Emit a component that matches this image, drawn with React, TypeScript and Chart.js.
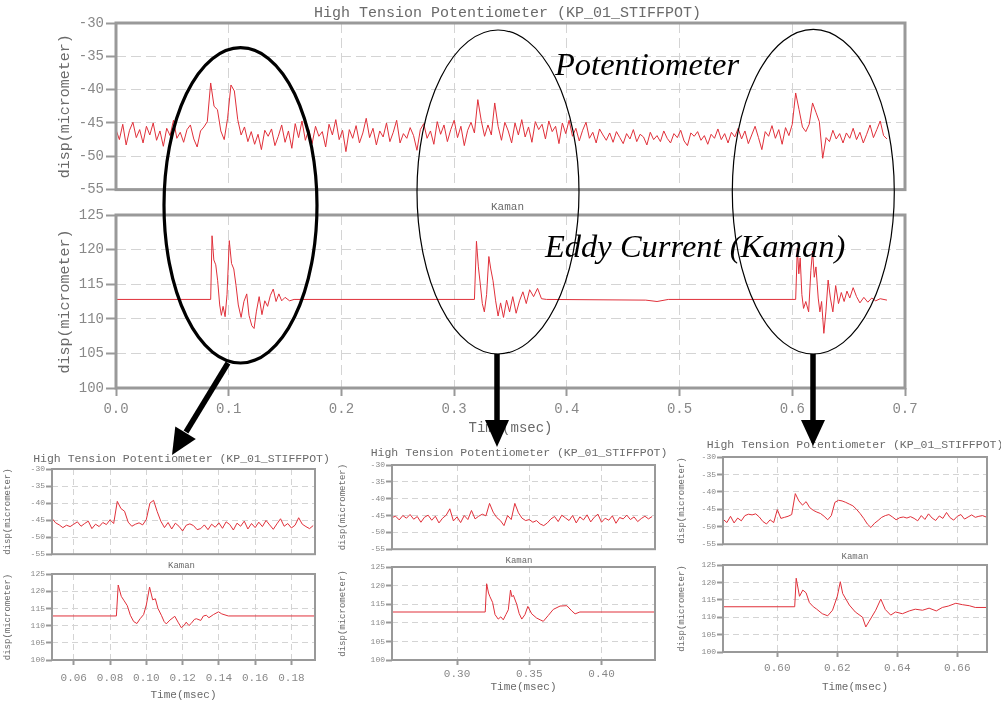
import React, { useEffect, useRef } from "react";
import { Chart, registerables } from "chart.js";

Chart.register(...registerables);

/* ---------------- text ---------------- */
const POT_TITLE = "High Tension Potentiometer (KP_01_STIFFPOT)";
const KAMAN_TITLE = "Kaman";
const Y_TITLE = "disp(micrometer)";
const X_TITLE = "Time(msec)";
const LABEL_POT = "Potentiometer";
const LABEL_EDDY = "Eddy Current (Kaman)";

/* ---------------- data: main overview ---------------- */
// Potentiometer, sampled every MAIN_POT_DT msec from 0
const MAIN_POT_DT = 0.003;
const mainPotValues = [
  -46.0, -47.5, -45.2, -48.3, -46.1, -44.9, -47.2, -46.0, -48.0, -45.5,
  -46.8, -45.0, -47.6, -46.2, -48.5, -45.8, -46.9, -44.6, -47.3, -46.4,
  -47.9, -46.0, -45.3, -47.4, -48.6, -46.2, -45.6, -44.8,
  -39.0, -42.5, -43.0, -46.2,
  -47.5, -44.3, -39.3, -40.2, -44.5, -46.8,
  -45.6, -47.8, -46.3, -48.2, -46.7, -49.0, -46.1, -47.0, -45.9, -48.4,
  -47.0, -45.3, -47.9, -46.2, -48.8, -45.1, -47.2, -44.7, -47.6, -46.0,
  -48.1, -45.5, -47.0, -46.3, -48.6, -45.2, -46.8, -44.5, -47.5, -46.1,
  -49.3, -46.0, -47.3, -45.4, -48.0, -46.5, -44.3, -47.2, -45.8, -48.3,
  -46.2, -47.1, -45.0, -47.8, -46.4, -44.6, -48.0, -46.6, -47.3, -45.7,
  -46.9, -49.1, -46.0, -45.1, -47.3, -46.2, -48.2, -44.8, -46.7, -45.3,
  -47.8, -46.0, -44.6, -47.2, -45.5, -48.4, -46.1, -44.9, -46.5,
  -41.5, -44.6, -47.0, -45.3, -46.8, -42.0, -45.5,
  -47.6, -44.9, -46.2, -48.0, -45.0, -46.8, -44.5, -47.1, -45.6, -47.9,
  -44.8, -46.0, -45.2, -47.4, -44.7, -46.3, -45.5, -48.1, -45.0, -46.6,
  -44.6, -47.0, -45.8, -47.7, -46.1, -44.9, -47.3, -46.4, -48.0, -45.9,
  -46.8, -47.6, -46.5, -47.9, -46.3, -47.2, -48.1, -46.6, -47.4, -46.0,
  -47.8, -46.7, -47.1, -48.3, -46.4, -47.5, -46.9, -47.8, -46.2, -47.3,
  -48.0, -46.6, -47.2, -46.1, -47.7, -48.4, -46.5, -47.0, -46.3, -47.6,
  -46.9, -48.2, -46.7, -47.3, -45.9, -47.5, -46.6, -48.0, -46.4, -47.1,
  -45.8, -47.4, -46.2, -48.1, -46.8, -45.5, -47.2, -49.0, -46.3, -47.0,
  -45.4, -47.3, -46.0, -48.2, -45.7, -46.9, -45.2,
  -40.5, -43.0, -45.6, -46.3, -45.2, -42.0, -43.4, -44.8, -50.3, -47.2,
  -47.8, -46.1, -47.4, -46.6, -48.0, -46.5, -47.3, -45.8, -47.5, -46.4,
  -48.0, -46.7, -45.3, -47.2, -46.0, -44.7, -46.9, -47.4,
];
const mainPotTimes = mainPotValues.map((_, i) => i * MAIN_POT_DT);

// Kaman eddy current probe (time, value) pairs
const mainKamanTimes = [
  0, 0.084, 0.0852, 0.0868, 0.0885, 0.0902, 0.092, 0.0935, 0.095, 0.0968,
  0.0985, 0.1005, 0.1025, 0.1045, 0.1065, 0.1085, 0.111, 0.1135, 0.116, 0.118,
  0.1205, 0.1225, 0.1245, 0.127, 0.1295, 0.132, 0.1345, 0.137, 0.1395, 0.142,
  0.1445, 0.147, 0.15, 0.154, 0.158,
  0.318, 0.3198, 0.3215, 0.3232, 0.325, 0.3268, 0.3288, 0.3308, 0.3325, 0.3345,
  0.3368, 0.339, 0.3412, 0.3438, 0.3465, 0.3492, 0.352, 0.355, 0.358, 0.361,
  0.364, 0.367, 0.3705, 0.374, 0.3775, 0.382, 0.47, 0.48, 0.49,
  0.603, 0.6045, 0.6058, 0.607, 0.6085, 0.61, 0.612, 0.6145, 0.6165, 0.618,
  0.6195, 0.621, 0.623, 0.6245, 0.626, 0.628, 0.6298, 0.6318, 0.6338, 0.636,
  0.6385, 0.641, 0.6435, 0.646, 0.6485, 0.651, 0.654, 0.657, 0.66, 0.6635,
  0.667, 0.6705, 0.674, 0.678, 0.684,
];
const mainKamanValues = [
  112.8, 112.8, 122.0, 118.5, 117.8, 115.5, 112.0, 110.5, 111.8, 110.3,
  113.5, 121.3, 118.0, 117.2, 114.8, 112.0, 110.2, 112.5, 113.6, 110.5,
  109.0, 108.6, 111.0, 113.2, 110.6, 112.6, 111.8, 113.4, 114.3, 112.5,
  113.6, 112.6, 113.1, 112.6, 112.8,
  112.8, 121.2, 117.5, 115.0, 112.2, 111.0, 113.5, 119.0, 117.2, 115.5,
  112.6, 110.4, 112.3, 110.2, 112.7, 111.0, 113.2, 110.8, 112.6, 113.9,
  112.2, 114.2, 113.2, 114.4, 112.9, 112.8, 112.7, 112.5, 112.8,
  112.8, 120.2, 116.5, 118.8, 113.5, 111.5, 112.5, 111.0, 117.0, 119.8,
  116.0, 117.5, 113.0, 111.0, 112.5, 107.9, 111.0, 115.6, 113.0, 111.0,
  114.8, 112.2, 113.8, 112.5, 114.0, 113.0, 114.5, 113.2, 112.3, 113.1,
  112.4, 113.0, 112.6, 112.9, 112.7,
];

/* ---------------- data: zoom 1 (around 0.1 msec) ---------------- */
const Z1_POT_T0 = 0.048;
const Z1_POT_DT = 0.002;
const z1PotValues = [
  -44.5, -45.8, -46.4, -47.2, -46.5, -46.9, -46.2, -45.5, -46.8, -46.0,
  -45.3, -47.5, -46.2, -46.9, -45.7, -46.3, -44.9, -46.0,
  -39.5, -41.6, -42.4, -45.6,
  -46.8, -46.2, -45.8, -46.4, -44.8,
  -40.0, -39.2, -42.5, -45.3,
  -47.2, -45.7, -47.6, -45.9, -46.8, -48.2, -46.5, -46.1, -46.6, -47.8,
  -47.5, -46.4, -47.8, -46.2, -47.1, -45.8, -47.4, -45.5, -46.3, -47.9,
  -45.9, -46.8, -45.3, -47.6, -46.0, -47.2, -45.6, -46.9, -45.1, -46.4,
  -47.7, -46.1, -44.6, -46.8, -46.0, -47.3, -46.5, -44.3, -46.2, -46.9, -47.5, -46.6,
];
const z1PotTimes = z1PotValues.map((_, i) => Z1_POT_T0 + i * Z1_POT_DT);
const z1KamanTimes = [
  0.048, 0.0835, 0.0845, 0.0862, 0.0878, 0.0895, 0.0912, 0.093, 0.0948, 0.0966,
  0.0985, 0.1, 0.1018, 0.1035, 0.105, 0.1064, 0.1083, 0.1098, 0.111, 0.113,
  0.1157, 0.1175, 0.1193, 0.121, 0.122, 0.1235, 0.1247, 0.1265, 0.1276, 0.13,
  0.1315, 0.1331, 0.1345, 0.137, 0.1398, 0.1416, 0.1452, 0.193,
];
const z1KamanValues = [
  112.8, 112.8, 121.8, 118.5, 117.2, 115.8, 113.0, 111.2, 110.6, 112.0,
  113.2, 116.0, 121.2, 117.5, 117.8, 115.0, 113.0, 111.2, 110.5, 111.6,
  112.7, 111.0, 109.4, 110.2, 111.0, 110.0, 110.6, 111.8, 112.0, 111.5,
  112.8, 113.0, 112.3, 113.2, 114.0, 113.4, 112.8, 112.8,
];

/* ---------------- data: zoom 2 (around 0.33 msec) ---------------- */
const Z2_POT_T0 = 0.255;
const Z2_POT_DT = 0.0025;
const z2PotValues = [
  -45.6, -45.2, -46.3, -45.0, -45.8, -44.7, -46.1, -45.3, -47.0, -45.5,
  -44.9, -46.4, -45.2, -47.2, -45.8, -44.9, -43.0, -46.6, -45.4, -47.1,
  -45.0, -46.2, -43.5, -46.0, -45.2, -44.6, -45.1,
  -41.4, -44.0, -45.6, -46.5, -48.0, -45.0, -46.2, -41.4, -44.2,
  -45.8, -46.5, -46.2, -47.0, -46.5, -47.5, -48.0, -47.2, -46.0, -45.3,
  -46.8, -44.9, -45.7, -46.5, -45.0, -47.2, -45.4, -46.3, -44.8, -46.9,
  -45.5, -44.6, -47.0, -45.8, -46.4, -45.1, -47.3, -45.6, -46.0, -44.9,
  -46.2, -45.4, -46.8, -45.9, -45.2, -46.0, -45.3,
];
const z2PotTimes = z2PotValues.map((_, i) => Z2_POT_T0 + i * Z2_POT_DT);
const z2KamanTimes = [
  0.255, 0.3195, 0.3205, 0.3218, 0.3228, 0.3246, 0.3263, 0.3285, 0.3303, 0.332,
  0.3338, 0.3355, 0.337, 0.338, 0.339, 0.3413, 0.343, 0.3448, 0.347, 0.349,
  0.3517, 0.355, 0.3575, 0.3597, 0.3632, 0.3666, 0.3713, 0.376, 0.3794, 0.3817,
  0.385, 0.437,
];
const z2KamanValues = [
  112.9, 112.9, 120.5, 118.0, 117.0, 115.5, 112.2, 111.0, 111.6, 110.8,
  112.2, 113.5, 118.8, 117.0, 117.4, 115.0, 112.5, 111.0, 112.2, 114.4,
  112.4, 111.3, 110.8, 110.4, 112.0, 113.6, 114.5, 114.6, 113.2, 112.4,
  112.9, 112.9,
];

/* ---------------- data: zoom 3 (around 0.62 msec) ---------------- */
const Z3_POT_T0 = 0.582;
const Z3_POT_DT = 0.0012;
const z3PotValues = [
  -47.9, -48.8, -47.0, -48.9, -47.5, -48.3, -46.8, -46.4, -46.6, -46.3,
  -47.2, -48.5, -49.2, -48.0, -48.8,
  -45.1, -47.6, -47.3, -47.0, -46.5,
  -40.5, -42.6, -43.8, -42.8, -44.5, -45.3,
  -45.8, -46.2, -47.0, -48.0, -46.8,
  -43.0, -42.4, -42.6, -43.0, -43.5, -44.0,
  -45.0, -46.2, -47.6, -49.2, -50.2, -49.0, -48.2,
  -47.3, -46.8, -46.5, -47.2, -48.0, -47.4, -47.2, -47.5, -47.1, -47.6,
  -48.3, -46.8, -47.9, -46.3, -47.5, -48.2, -46.9, -47.6, -45.9, -47.4,
  -48.1, -47.0, -46.5, -47.8, -47.2, -46.6, -47.3, -47.0, -46.8, -47.2,
];
const z3PotTimes = z3PotValues.map((_, i) => Z3_POT_T0 + i * Z3_POT_DT);
const z3KamanTimes = [
  0.582, 0.6058, 0.6063, 0.6074, 0.6085, 0.6096, 0.6107, 0.612, 0.613, 0.615,
  0.6168, 0.6184, 0.62, 0.621, 0.6218, 0.623, 0.624, 0.626, 0.6284, 0.6295,
  0.6306, 0.6328, 0.6345, 0.636, 0.6378, 0.6394, 0.6417, 0.644, 0.646, 0.6484,
  0.6506, 0.653, 0.655, 0.657, 0.6595, 0.6617, 0.664, 0.666, 0.6696,
];
const z3KamanValues = [
  113.0, 113.0, 121.2, 116.0, 117.8, 117.0, 114.2, 113.0, 112.4, 111.0,
  110.4, 112.0, 116.0, 120.2, 116.8, 115.0, 113.5, 111.5, 110.0, 107.2,
  108.8, 112.0, 115.2, 112.2, 110.6, 111.5, 111.0, 111.8, 112.3, 112.0,
  112.6, 111.8, 112.8, 113.2, 114.0, 113.6, 113.3, 112.8, 112.8,
];

/* ---------------- styling ---------------- */
const MONO = "'Liberation Mono', 'DejaVu Sans Mono', 'Courier New', monospace";
const SERIF = "'Liberation Serif', 'Times New Roman', serif";
const RED = "#e0303a";
const GRID = "#d4d4d4";
const FRAME = "#999999";
const TICK_TXT = "#888888";
const TITLE_TXT = "#6a6a6a";

type Panel = {
  id: string;
  box: [number, number, number, number];
  title: string;
  titleSize: number;
  titlePad: [number, number];
  yW: number;
  rW: number;
  xH: number;
  yRange: [number, number];
  yTickSize: number;
  yTickLen: number;
  yTickPad: number;
  yTitleSize: number;
  yTitlePad: number;
  xRange: [number, number];
  xStep: number;
  xDec: number;
  xLabels: boolean;
  xTickSize: number;
  xTickLen: number;
  xTickPad: number;
  xTitleSize: number;
  xTitlePad: number;
  dash: number[];
  frameW: number;
  lineW: number;
  t: number[];
  v: number[];
};

const big = {
  yW: 116, rW: 110, yTickSize: 14, yTickLen: 10, yTickPad: 2, yTitleSize: 15, yTitlePad: 56,
  xRange: [0, 0.7] as [number, number], xStep: 0.1, xDec: 1, xTickSize: 14, xTickLen: 8,
  dash: [10, 5], frameW: 3, lineW: 1,
};
const small = {
  yTickSize: 8, yTickLen: 6, yTickPad: 1, yTitleSize: 9, xTickSize: 11, xTickLen: 5,
  xTitleSize: 11, dash: [6, 4], frameW: 2, lineW: 1,
};

const panels: Panel[] = [
  {
    ...big, id: "mainPot", box: [0, 0, 1015, 200], title: POT_TITLE, titleSize: 15, titlePad: [4, 1],
    xH: 4, yRange: [-55, -30], xLabels: false, xTickPad: 0, xTitleSize: 14, xTitlePad: 0,
    t: mainPotTimes, v: mainPotValues,
  },
  {
    ...big, id: "mainKaman", box: [0, 200, 1015, 240], title: KAMAN_TITLE, titleSize: 11, titlePad: [0.4, 1.4],
    xH: 52, yRange: [100, 125], xLabels: true, xTickPad: 5, xTitleSize: 14, xTitlePad: 3.6,
    t: mainKamanTimes, v: mainKamanValues,
  },
  {
    ...small, id: "z1Pot", box: [0, 447, 363, 113], title: POT_TITLE, titleSize: 11.5, titlePad: [5.1, 3.1],
    yW: 52, rW: 48, xH: 2, yRange: [-55, -30], yTitlePad: 2.6,
    xRange: [0.048, 0.193], xStep: 0.02, xDec: 2, xLabels: false, xTickPad: 0, xTitlePad: 0,
    t: z1PotTimes, v: z1PotValues,
  },
  {
    ...small, id: "z1Kaman", box: [0, 558, 363, 144], title: KAMAN_TITLE, titleSize: 9, titlePad: [2.6, 2.6],
    yW: 52, rW: 48, xH: 42, yRange: [100, 125], yTitlePad: 2.6,
    xRange: [0.048, 0.193], xStep: 0.02, xDec: 2, xLabels: true, xTickPad: 6, xTitlePad: 0.4,
    t: z1KamanTimes, v: z1KamanValues,
  },
  {
    ...small, id: "z2Pot", box: [330, 441, 378, 114], title: POT_TITLE, titleSize: 11.5, titlePad: [5.1, 5.1],
    yW: 62, rW: 53, xH: 2, yRange: [-55, -30], yTitlePad: 7.6,
    xRange: [0.255, 0.437], xStep: 0.05, xDec: 2, xLabels: false, xTickPad: 0, xTitlePad: 0,
    t: z2PotTimes, v: z2PotValues,
  },
  {
    ...small, id: "z2Kaman", box: [330, 550, 378, 152], title: KAMAN_TITLE, titleSize: 9, titlePad: [5.6, 0.6],
    yW: 62, rW: 53, xH: 42, yRange: [100, 125], yTitlePad: 7.6,
    xRange: [0.255, 0.437], xStep: 0.05, xDec: 2, xLabels: true, xTickPad: 2.4, xTitlePad: 8.4,
    t: z2KamanTimes, v: z2KamanValues,
  },
  {
    ...small, id: "z3Pot", box: [670, 433, 370, 117], title: POT_TITLE, titleSize: 11.5, titlePad: [5.1, 5.1],
    yW: 53, rW: 53, xH: 2, yRange: [-55, -30], yTitlePad: 6.6,
    xRange: [0.5819, 0.6699], xStep: 0.02, xDec: 2, xLabels: false, xTickPad: 0, xTitlePad: 0,
    t: z3PotTimes, v: z3PotValues,
  },
  {
    ...small, id: "z3Kaman", box: [670, 548, 370, 154], title: KAMAN_TITLE, titleSize: 9, titlePad: [3.6, 2.6],
    yW: 53, rW: 53, xH: 50, yRange: [100, 125], yTitlePad: 6.6,
    xRange: [0.5819, 0.6699], xStep: 0.02, xDec: 2, xLabels: true, xTickPad: 4.4, xTitlePad: 8.4,
    t: z3KamanTimes, v: z3KamanValues,
  },
];

function buildConfig(p: Panel): any {
  const frame = {
    id: "frame_" + p.id,
    afterDatasetsDraw(chart: any) {
      const { ctx, chartArea: a } = chart;
      ctx.save();
      ctx.strokeStyle = FRAME;
      ctx.lineWidth = p.frameW;
      ctx.strokeRect(a.left, a.top, a.right - a.left, a.bottom - a.top);
      ctx.restore();
    },
  };
  return {
    type: "line",
    data: {
      datasets: [
        {
          data: p.t.map((x, i) => ({ x, y: p.v[i] })),
          xAxisID: "x",
          yAxisID: "y",
          borderColor: RED,
          borderWidth: p.lineW,
          pointRadius: 0,
          tension: 0,
          fill: false,
        },
      ],
    },
    options: {
      responsive: false,
      animation: false,
      devicePixelRatio: 1,
      events: [],
      layout: { padding: 0 },
      plugins: {
        legend: { display: false },
        tooltip: { enabled: false },
        title: {
          display: true,
          text: p.title,
          color: TITLE_TXT,
          fullSize: true,
          font: { family: MONO, size: p.titleSize, weight: "normal" },
          padding: { top: p.titlePad[0], bottom: p.titlePad[1] },
        },
      },
      scales: {
        x: {
          type: "linear",
          position: "bottom",
          min: p.xRange[0],
          max: p.xRange[1],
          afterFit: (s: any) => {
            s.height = p.xH;
          },
          border: { display: false, dash: p.dash },
          grid: {
            color: GRID,
            lineWidth: 1,
            drawTicks: p.xLabels,
            tickLength: p.xTickLen,
            tickColor: FRAME,
            tickWidth: 2,
            tickBorderDash: [],
          },
          ticks: {
            display: p.xLabels,
            stepSize: p.xStep,
            includeBounds: false,
            autoSkip: false,
            maxRotation: 0,
            color: TICK_TXT,
            padding: p.xTickPad,
            font: { family: MONO, size: p.xTickSize },
            callback: (val: any) => Number(val).toFixed(p.xDec),
          },
          title: {
            display: p.xLabels,
            text: X_TITLE,
            color: TITLE_TXT,
            font: { family: MONO, size: p.xTitleSize },
            padding: { top: 0, bottom: p.xTitlePad },
          },
        },
        y: {
          type: "linear",
          position: "left",
          min: p.yRange[0],
          max: p.yRange[1],
          afterFit: (s: any) => {
            s.width = p.yW;
          },
          border: { display: false, dash: p.dash },
          grid: {
            color: GRID,
            lineWidth: 1,
            drawTicks: true,
            tickLength: p.yTickLen,
            tickColor: FRAME,
            tickWidth: 2,
            tickBorderDash: [],
          },
          ticks: {
            stepSize: 5,
            color: TICK_TXT,
            padding: p.yTickPad,
            font: { family: MONO, size: p.yTickSize },
          },
          title: {
            display: true,
            text: Y_TITLE,
            color: TITLE_TXT,
            font: { family: MONO, size: p.yTitleSize },
            padding: { top: p.yTitlePad, bottom: 0 },
          },
        },
        yR: {
          type: "linear",
          position: "right",
          display: true,
          afterFit: (s: any) => {
            s.width = p.rW;
          },
          border: { display: false },
          grid: { display: false, drawTicks: false },
          ticks: { display: false },
        },
      },
    },
    plugins: [frame],
  };
}

function ChartPanel({ p }: { p: Panel }) {
  const ref = useRef<HTMLCanvasElement>(null);
  useEffect(() => {
    const chart = new Chart(ref.current as HTMLCanvasElement, buildConfig(p));
    return () => chart.destroy();
  }, [p]);
  const [l, t, w, h] = p.box;
  return (
    <canvas
      ref={ref}
      width={w}
      height={h}
      style={{ position: "absolute", left: l, top: t, width: w, height: h }}
    />
  );
}

export default function App() {
  const labelStyle: React.CSSProperties = {
    position: "absolute",
    fontFamily: SERIF,
    fontStyle: "italic",
    fontSize: 32.5,
    lineHeight: 1,
    color: "#000",
    whiteSpace: "nowrap",
  };
  return (
    <div
      style={{
        position: "absolute",
        left: 0,
        top: 0,
        width: 1001,
        height: 702,
        overflow: "hidden",
        background: "#fff",
      }}
    >
      {panels.map((p) => (
        <ChartPanel key={p.id} p={p} />
      ))}
      <div style={{ ...labelStyle, left: 555, top: 47.8 }}>{LABEL_POT}</div>
      <div style={{ ...labelStyle, left: 545, top: 229.8 }}>{LABEL_EDDY}</div>
      <svg
        width={1001}
        height={702}
        style={{ position: "absolute", left: 0, top: 0, pointerEvents: "none" }}
      >
        <ellipse cx={240.5} cy={205.3} rx={76.5} ry={157.7} fill="none" stroke="#000" strokeWidth={3.2} />
        <ellipse cx={498} cy={192} rx={81} ry={162} fill="none" stroke="#000" strokeWidth={1.2} />
        <ellipse cx={813.3} cy={191.7} rx={81} ry={162.3} fill="none" stroke="#000" strokeWidth={1.2} />
        <line x1={228} y1={363} x2={186} y2={432} stroke="#000" strokeWidth={5.5} />
        <polygon points="172,455 175.3,426.6 195.8,439" fill="#000" />
        <line x1={497} y1={354} x2={497} y2={422} stroke="#000" strokeWidth={5.5} />
        <polygon points="485,420 509,420 497,447" fill="#000" />
        <line x1={813} y1={354} x2={813} y2={422} stroke="#000" strokeWidth={5.5} />
        <polygon points="801,420 825,420 813,446" fill="#000" />
      </svg>
    </div>
  );
}
